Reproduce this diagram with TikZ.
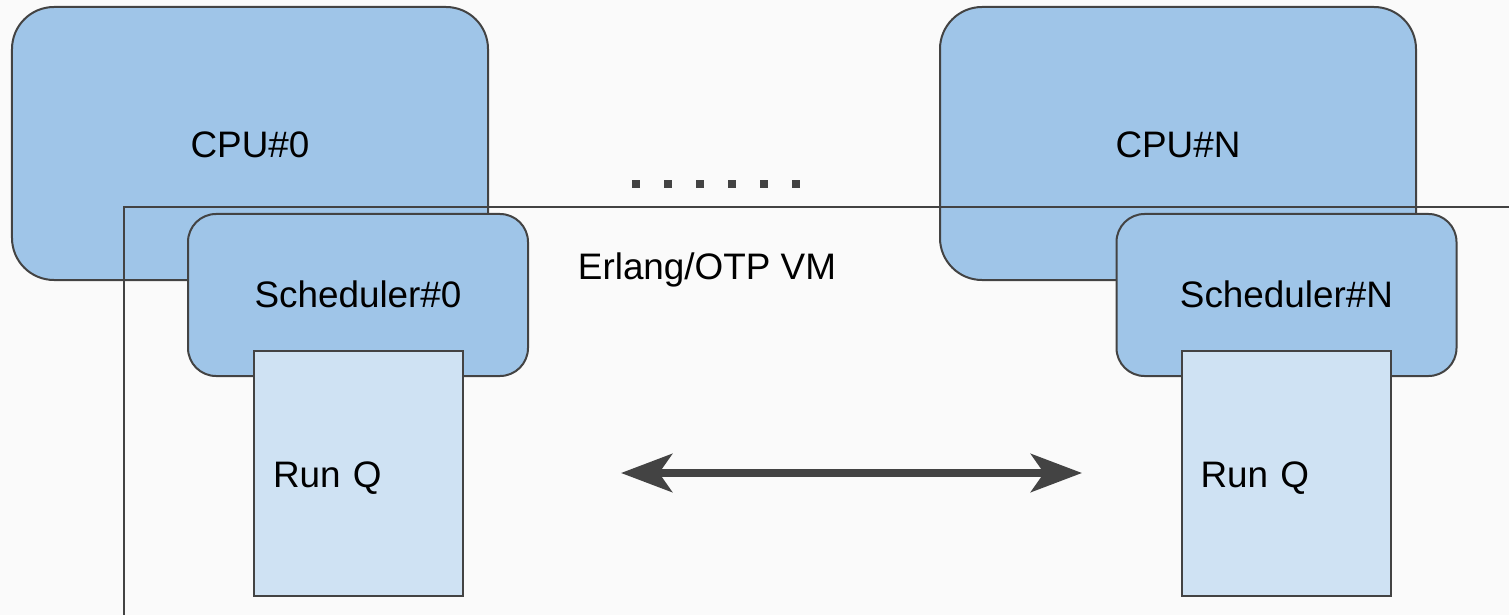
\documentclass[tikz,border=0pt]{standalone}
\usepackage{fontspec}
\setmainfont{Liberation Sans}
\usetikzlibrary{arrows.meta}
\definecolor{bg}{HTML}{FAFAFA}
\definecolor{dark}{HTML}{434343}
\definecolor{cpublue}{HTML}{9FC5E8}
\definecolor{qblue}{HTML}{CFE2F3}
\newcommand{\basedown}[2]{\raisebox{-#1bp}[0pt][0pt]{#2}}
\tikzset{
  lbl/.style={font=\fontsize{37}{40}\selectfont, text=black},
  cpubox/.style={draw=dark, line width=2bp, fill=cpublue, rounded corners=42bp,
    minimum width=476bp, minimum height=273bp, inner sep=0pt, lbl},
  schedbox/.style={draw=dark, line width=2bp, fill=cpublue, rounded corners=28bp,
    minimum width=340bp, minimum height=162bp, inner sep=0pt, lbl},
  qbox/.style={draw=dark, line width=2bp, fill=qblue, minimum height=245bp,
    inner xsep=19bp, inner ysep=0pt, text width=171bp, align=left, lbl},
  dotsq/.style={fill=dark, minimum size=8bp, inner sep=0pt},
  frameline/.style={draw=dark, line width=1.5bp},
  bigarrow/.style={draw=dark, line width=8bp, {Stealth[length=51bp,width=38bp,inset=13bp]}-{Stealth[length=51bp,width=38bp,inset=13bp]}}
}
\begin{document}
\begin{tikzpicture}[x=1bp, y=-1bp]
\fill[bg] (0,0) rectangle (1509,615);
\useasboundingbox (0,0) rectangle (1509,615);
% CPUs
\node[cpubox] (cpu0) at (250,143.5) {\basedown{14.5}{CPU\#0}};
\node[cpubox] (cpuN) at (1178,143.5) {\basedown{14.5}{CPU\#N}};
% VM frame
\coordinate (fbl) at (124,615);
\coordinate (ftl) at (124,207);
\coordinate (ftr) at (1509,207);
\draw[frameline] (fbl) -- (ftl) -- (ftr);
\node[lbl] (vm) at (707,270) {Erlang/OTP VM};
% Schedulers
\node[schedbox] (s0) at (358,295) {\basedown{12.5}{Scheduler\#0}};
\node[schedbox] (sN) at (1286.5,295) {\basedown{12.5}{Scheduler\#N}};
% Run queues
\node[qbox] (q0) at (358.5,473) {\basedown{14}{Run Q}};
\node[qbox] (qN) at (1286,473) {\basedown{14}{Run Q}};
% dots
\foreach \i/\x in {1/636,2/668,3/700,4/732,5/764,6/796}
  \node[dotsq] (d\i) at (\x,184) {};
% arrow
\coordinate (aL) at (621,473);
\coordinate (aR) at (1082,473);
\draw[bigarrow] (aL) -- (aR);
\end{tikzpicture}
\end{document}
